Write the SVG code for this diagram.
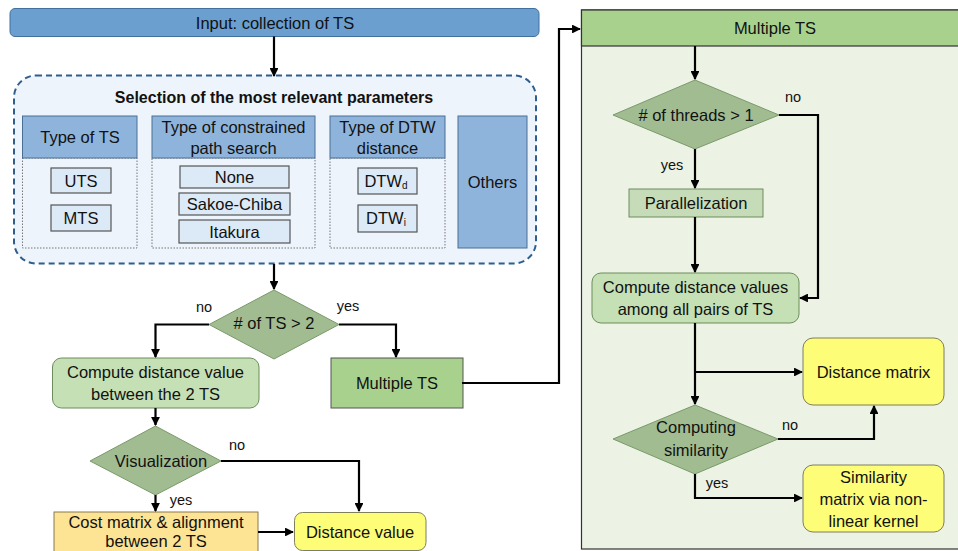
<svg xmlns="http://www.w3.org/2000/svg" width="958" height="551" viewBox="0 0 958 551">
<defs>
<marker id="ah" viewBox="0 0 10 10" refX="9" refY="5" markerWidth="4" markerHeight="4" orient="auto" markerUnits="strokeWidth">
<path d="M0,0 L10,5 L0,10 z" fill="#000"/>
</marker>
<style>
text{font-family:"Liberation Sans",Arial,sans-serif;fill:#111;text-anchor:middle;dominant-baseline:central}
.t{font-size:16.5px}
.s{font-size:14.5px}
.b{font-size:16px;font-weight:bold}
.hdr{fill:#8fb4db;stroke:#4a6f96;stroke-width:1}
.body{fill:#eef4fb;stroke:#777;stroke-width:1;stroke-dasharray:1.5 1.5}
.opt{fill:#dce9f6;stroke:#555;stroke-width:1.2}
.dia{fill:#a2bc92;stroke:#7a9a6a;stroke-width:1}
.yel{fill:#fdfd78;stroke:#7f7f5a;stroke-width:1}
.ca{fill:none;stroke:#000;stroke-width:2.2;marker-end:url(#ah)}
</style>
</defs>
<rect width="958" height="551" fill="#fff"/>

<g id="input">
<rect x="10" y="8.5" width="529" height="28" rx="5" fill="#6a9fd0" stroke="#41719c" stroke-width="1"/>
<text class="t" x="275" y="23">Input: collection of TS</text>
</g>

<g id="multiple-panel">
<rect x="581.5" y="10" width="400" height="539" fill="#ecf3e4" stroke="#333" stroke-width="1.2"/>
<rect x="581.5" y="10" width="400" height="36" fill="#a9d18e" stroke="#333" stroke-width="1.2"/>
<text class="t" x="775" y="28">Multiple TS</text>
</g>

<g id="params">
<rect x="14" y="75.5" width="522" height="188" rx="22" fill="#eef4fb" stroke="#2e5d8e" stroke-width="2" stroke-dasharray="6 4"/>
<text class="b" x="274" y="97">Selection of the most relevant parameters</text>
</g>

<g id="type-ts">
<rect class="body" x="22.5" y="158" width="114.5" height="90"/>
<rect class="hdr" x="22.5" y="116" width="114.5" height="42"/>
<text class="t" x="80" y="137">Type of TS</text>
<rect class="opt" x="51" y="168" width="60" height="25"/>
<text class="t" x="81" y="181">UTS</text>
<rect class="opt" x="51" y="205" width="60" height="26"/>
<text class="t" x="81" y="218">MTS</text>
</g>

<g id="type-path">
<rect class="body" x="152" y="158" width="163" height="90"/>
<rect class="hdr" x="152" y="116" width="163" height="42"/>
<text class="t" x="233.5" y="127">Type of constrained</text>
<text class="t" x="233.5" y="148">path search</text>
<rect class="opt" x="180" y="166" width="109" height="22"/>
<text class="t" x="234.5" y="177">None</text>
<rect class="opt" x="179" y="193" width="111" height="22"/>
<text class="t" x="234.5" y="204">Sakoe-Chiba</text>
<rect class="opt" x="179" y="220" width="111" height="23"/>
<text class="t" x="234.5" y="231.5">Itakura</text>
</g>

<g id="type-dtw">
<rect class="body" x="330" y="158" width="115" height="90"/>
<rect class="hdr" x="330" y="116" width="115" height="42"/>
<text class="t" x="387.5" y="127">Type of DTW</text>
<text class="t" x="387.5" y="148">distance</text>
<rect class="opt" x="358" y="168" width="59" height="26"/>
<text class="t" x="386" y="181">DTW<tspan font-size="10" dy="4">d</tspan></text>
<rect class="opt" x="358" y="205" width="59" height="27"/>
<text class="t" x="386" y="218">DTW<tspan font-size="10" dy="4">i</tspan></text>
</g>

<g id="others">
<rect class="hdr" x="458" y="116" width="69" height="132"/>
<text class="t" x="492.5" y="182">Others</text>
</g>

<g id="dec-ts">
<polygon class="dia" points="274,290 339,324.5 274,359 209,324.5"/>
<text class="t" x="274" y="323"># of TS &gt; 2</text>
</g>

<g id="compute2">
<rect x="52.5" y="358" width="206.5" height="50" rx="9" fill="#c5e0b4" stroke="#6d8c5d" stroke-width="1"/>
<text class="t" x="155.5" y="372">Compute distance value</text>
<text class="t" x="155.5" y="394">between the 2 TS</text>
</g>

<g id="multiple-ts">
<rect x="331" y="358" width="132" height="50" fill="#a9d18e" stroke="#555" stroke-width="1"/>
<text class="t" x="397" y="383">Multiple TS</text>
</g>

<g id="dec-vis">
<polygon class="dia" points="155.5,426 221,461 155.5,495 90,461"/>
<text class="t" x="161" y="461">Visualization</text>
</g>

<g id="cost">
<rect x="54" y="512" width="204" height="50" fill="#fde394" stroke="#8a7a50" stroke-width="1"/>
<text class="t" x="156" y="522">Cost matrix &amp; alignment</text>
<text class="t" x="156" y="541">between 2 TS</text>
</g>

<g id="dist-value">
<rect x="294.5" y="512.5" width="131.5" height="38" rx="8" class="yel"/>
<text class="t" x="360" y="532">Distance value</text>
</g>

<g id="dec-threads">
<polygon class="dia" points="695,80 779,115 695,149 613,115"/>
<text class="t" x="696" y="115"># of threads &gt; 1</text>
</g>

<g id="parallel">
<rect x="629" y="189" width="134" height="28" fill="#c6dcb8" stroke="#6d8c5d" stroke-width="1"/>
<text class="t" x="696" y="203">Parallelization</text>
</g>

<g id="compute-all">
<rect x="592" y="273" width="207" height="50" rx="9" fill="#c5e0b4" stroke="#6d8c5d" stroke-width="1"/>
<text class="t" x="695.5" y="287">Compute distance values</text>
<text class="t" x="695.5" y="309">among all pairs of TS</text>
</g>

<g id="dist-matrix">
<rect x="803" y="338" width="141" height="67" rx="10" class="yel"/>
<text class="t" x="873.5" y="372">Distance matrix</text>
</g>

<g id="dec-sim">
<polygon class="dia" points="695,405 778,439 695,474 613,439"/>
<text class="t" x="696" y="427">Computing</text>
<text class="t" x="696" y="450">similarity</text>
</g>

<g id="sim-matrix">
<rect x="803" y="465" width="141" height="67" rx="10" class="yel"/>
<text class="t" x="873.5" y="477">Similarity</text>
<text class="t" x="873.5" y="499">matrix via non-</text>
<text class="t" x="873.5" y="521">linear kernel</text>
</g>

<g id="connectors">
<path class="ca" d="M274,36.5 V76"/>
<path class="ca" d="M274,264 V289"/>
<path class="ca" d="M209,324.5 H155.5 V357"/>
<path class="ca" d="M339,324.5 H396 V357"/>
<path class="ca" d="M462,383 H559 V29 H580"/>
<path class="ca" d="M155.5,408 V425"/>
<path class="ca" d="M221,461 H359 V511"/>
<path class="ca" d="M155.5,495 V511"/>
<path class="ca" d="M258,532 H293"/>
<path class="ca" d="M695,46 V79"/>
<path class="ca" d="M695,149 V188"/>
<path class="ca" d="M695,217 V272"/>
<path class="ca" d="M779,115 H818 V298 H800"/>
<path class="ca" d="M695,323 V404"/>
<path class="ca" d="M695,372 H802"/>
<path class="ca" d="M778,439 H874 V406"/>
<path class="ca" d="M695,474 V498 H802"/>
<text class="s" x="204" y="307">no</text>
<text class="s" x="348" y="306">yes</text>
<text class="s" x="237" y="445">no</text>
<text class="s" x="181" y="500">yes</text>
<text class="s" x="793" y="97">no</text>
<text class="s" x="672" y="165">yes</text>
<text class="s" x="790" y="425">no</text>
<text class="s" x="717" y="483">yes</text>
</g>
</svg>
